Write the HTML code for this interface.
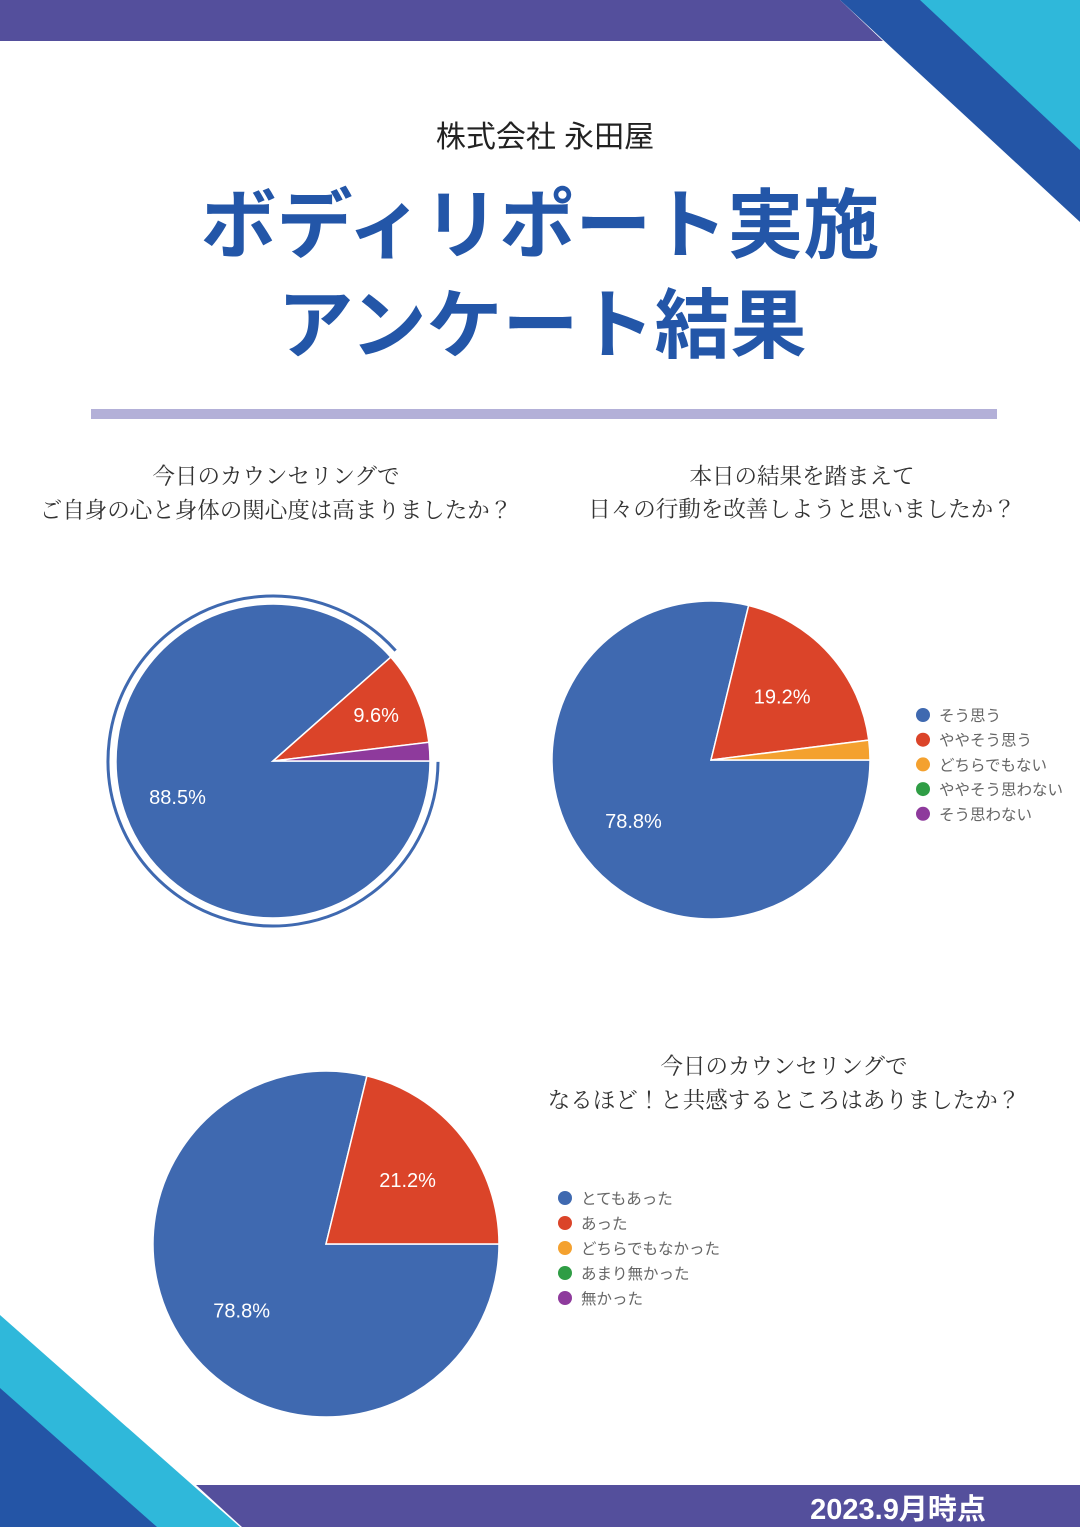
<!DOCTYPE html>
<html><head><meta charset="utf-8"><style>
html,body{margin:0;padding:0;background:#fff;}
body{width:1080px;height:1527px;position:relative;overflow:hidden;font-family:"Liberation Sans","Noto Sans CJK JP",sans-serif;}
svg{position:absolute;left:0;top:0;}
.q{font-family:"Liberation Serif","Noto Serif CJK JP",serif;font-size:22.5px;fill:#333;}
.lg{font-family:"Liberation Sans","Noto Sans CJK JP",sans-serif;font-size:15.5px;fill:#666;}
.pl{font-family:"Liberation Sans","Noto Sans CJK JP",sans-serif;font-size:20px;fill:#fff;}
</style></head><body>
<svg id="page" width="1080" height="1527" viewBox="0 0 1080 1527">
  <polygon points="0,0 840,0 883,41 0,41" fill="#544f9c"/>
  <polygon points="840,0 1080,0 1080,222" fill="#2455a6"/>
  <polygon points="920,0 1080,0 1080,150" fill="#2fb8da"/>
  <polygon points="0,1315 0,1527 240,1527" fill="#2fb8da"/>
  <polygon points="0,1388 0,1527 157,1527" fill="#2455a6"/>
  <polygon points="196,1485 1080,1485 1080,1527 242,1527" fill="#544f9c"/>
  <text x="898" y="1519" text-anchor="middle" font-size="29" font-weight="bold" fill="#fff">2023.9月時点</text>

  <text x="545" y="147" text-anchor="middle" font-size="30" fill="#222">株式会社 永田屋</text>
  <text x="540" y="252" text-anchor="middle" font-size="76" font-weight="bold" fill="#2356a8">ボディリポート実施</text>
  <text x="542" y="352" text-anchor="middle" font-size="76" font-weight="bold" fill="#2356a8">アンケート結果</text>
  <rect x="91" y="409" width="906" height="10" fill="#b3b0d8"/>

  <g>
    <text class="q" x="276" y="484" text-anchor="middle">今日のカウンセリングで</text>
    <text class="q" x="276" y="518" text-anchor="middle">ご自身の心と身体の関心度は高まりましたか？</text>
  </g>
  <g>
    <text class="q" x="802" y="484" text-anchor="middle">本日の結果を踏まえて</text>
    <text class="q" x="802" y="517" text-anchor="middle">日々の行動を改善しようと思いましたか？</text>
  </g>
  <g>
    <text class="q" x="784" y="1074" text-anchor="middle">今日のカウンセリングで</text>
    <text class="q" x="784" y="1108" text-anchor="middle">なるほど！と共感するところはありましたか？</text>
  </g>
  <g id="charts"></g>
</svg>
<script>
const colors = ["#3f69b0","#db4429","#f4a12f","#2f9d45","#8e3a9c"];
const legend2 = ["そう思う","ややそう思う","どちらでもない","ややそう思わない","そう思わない"];
const legend3 = ["とてもあった","あった","どちらでもなかった","あまり無かった","無かった"];
const values1 = [88.5, 9.6, 0, 0, 1.9];
const values2 = [78.8, 19.2, 2.0, 0, 0];
const values3 = [78.8, 21.2, 0, 0, 0];
const labels1 = ["88.5%","9.6%","","",""];
const labels2 = ["78.8%","19.2%","","",""];
const labels3 = ["78.8%","21.2%","","",""];

const NS = "http://www.w3.org/2000/svg";
const root = document.getElementById("charts");
function pt(cx,cy,r,deg){const a=deg*Math.PI/180;return [cx+r*Math.cos(a),cy+r*Math.sin(a)];}
function angleOf(vals,i){let s=0;for(let k=0;k<i;k++)s+=vals[k];const t=vals.reduce((a,b)=>a+b,0);return s/t*360;}
function drawPie(name,vals,labels,cx,cy,r,labelR,ring){
  const g=document.createElementNS(NS,"g");
  
  
  root.appendChild(g);
  const total=vals.reduce((a,b)=>a+b,0);
  vals.forEach((v,i)=>{
    if(v<=0)return;
    const a0=angleOf(vals,i), a1=a0+v/total*360;
    const p0=pt(cx,cy,r,a0), p1=pt(cx,cy,r,a1);
    const large=(a1-a0)>180?1:0;
    const path=document.createElementNS(NS,"path");
    path.setAttribute("d",`M${cx},${cy} L${p0[0]},${p0[1]} A${r},${r} 0 ${large} 1 ${p1[0]},${p1[1]} Z`);
    path.setAttribute("fill",colors[i]);
    path.setAttribute("stroke","#fff");
    path.setAttribute("stroke-width","1.5");
    
    
    g.appendChild(path);
    if(ring && i===0){
      const rr=r+8, q0=pt(cx,cy,rr,a0+0.3), q1=pt(cx,cy,rr,a1-0.6);
      const arc=document.createElementNS(NS,"path");
      arc.setAttribute("d",`M${q0[0]},${q0[1]} A${rr},${rr} 0 ${large} 1 ${q1[0]},${q1[1]}`);
      arc.setAttribute("fill","none");
      arc.setAttribute("stroke",colors[0]);
      arc.setAttribute("stroke-width","3");
      
      
      g.appendChild(arc);
    }
    if(labels[i]){
      const mid=(a0+a1)/2, lp=pt(cx,cy,r*labelR[i],mid);
      const t=document.createElementNS(NS,"text");
      t.setAttribute("x",lp[0]);t.setAttribute("y",lp[1]+7);
      t.setAttribute("text-anchor","middle");
      t.setAttribute("class","pl");
      
      
      t.textContent=labels[i];
      g.appendChild(t);
    }
  });
}
function drawLegend(name,items,x,y,step){
  const g=document.createElementNS(NS,"g");
  
  
  root.appendChild(g);
  items.forEach((s,i)=>{
    const c=document.createElementNS(NS,"circle");
    c.setAttribute("cx",x);c.setAttribute("cy",y+i*step);c.setAttribute("r",7);c.setAttribute("fill",colors[i]);
    
    
    g.appendChild(c);
    const t=document.createElementNS(NS,"text");
    t.setAttribute("x",x+16);t.setAttribute("y",y+i*step+6);t.setAttribute("class","lg");
    
    
    t.textContent=s;
    g.appendChild(t);
  });
}
drawPie("pie-chart-1",values1,labels1,273,761,157,[0.65,0.72,0.7,0.7,0.7],true);
drawPie("pie-chart-2",values2,labels2,711,760,159,[0.62,0.6,0.7,0.7,0.7],false);
drawPie("pie-chart-3",values3,labels3,326,1244,173,[0.62,0.6,0.7,0.7,0.7],false);
drawLegend("legend-2",legend2,923,715,24.7);
drawLegend("legend-3",legend3,565,1198,25);
</script>
</body></html>
